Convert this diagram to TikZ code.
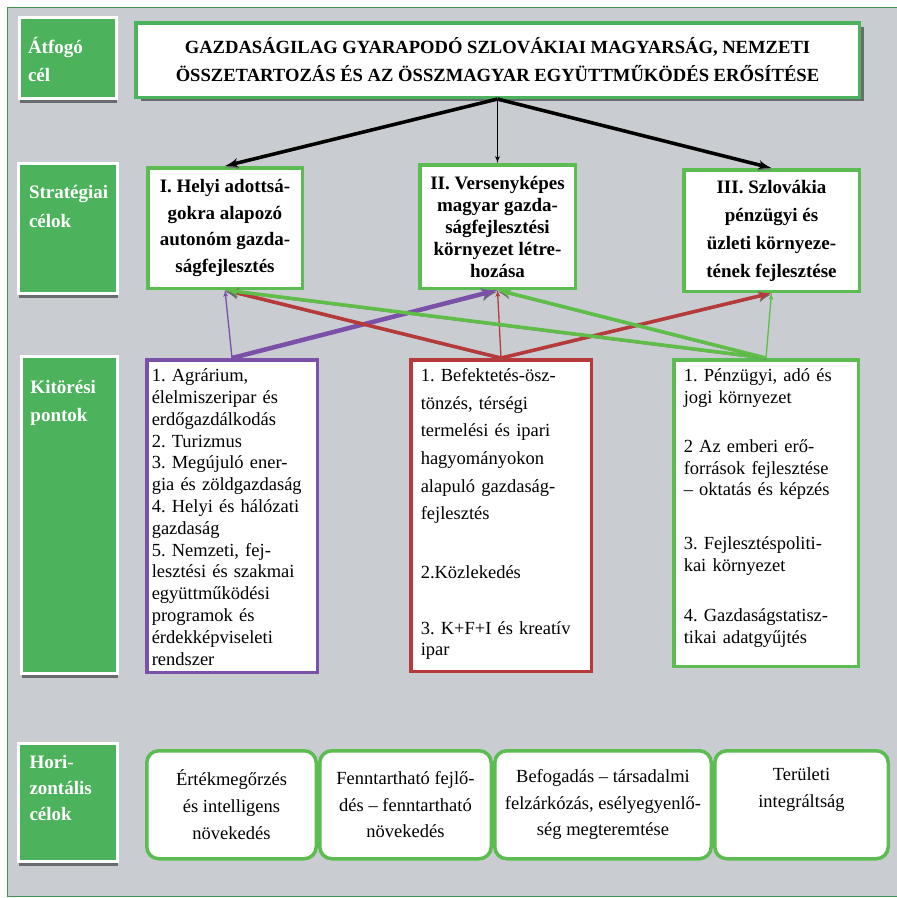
\documentclass[tikz,border=0pt]{standalone}
\usepackage{fontspec}
\setmainfont{Liberation Serif}
\usepackage{tikz}
\usetikzlibrary{shapes,arrows,positioning,shadows}

\definecolor{bggrey}{RGB}{201,205,209}
\definecolor{framegreen}{RGB}{70,145,80}
\definecolor{labgreen}{RGB}{76,178,92}
\definecolor{boxgreen}{RGB}{92,188,82}
\definecolor{shadowgrey}{RGB}{105,108,110}
\definecolor{purp}{RGB}{122,80,168}
\definecolor{darkred}{RGB}{183,58,58}
\definecolor{arrgreen}{RGB}{95,190,72}

\tikzstyle{lbl} = [rectangle, draw=white, line width=3pt, fill=labgreen,
    text=white, font=\bfseries\fontsize{19}{28}\selectfont, align=left,
    anchor=north west, inner ysep=0pt,
    drop shadow={shadow xshift=0pt, shadow yshift=-4pt, fill=shadowgrey, opacity=1}]
\tikzstyle{goal} = [rectangle, draw=boxgreen, line width=3.5pt, fill=white,
    align=center, font=\bfseries\fontsize{19}{26.7}\selectfont]
\tikzstyle{point} = [rectangle, line width=3.5pt, fill=white, align=left,
    anchor=north west, inner ysep=0pt, text height=22pt,
    font=\frenchspacing\fontsize{18.5}{21.8}\selectfont]
\tikzstyle{crossgoal} = [rectangle, rounded corners=12pt, draw=boxgreen,
    line width=3.5pt, fill=white, align=center, minimum height=108pt,
    font=\fontsize{18.5}{26.7}\selectfont]
\tikzstyle{link} = [draw, -latex', line width=3.5pt,
    preaction={draw=shadowgrey, transform canvas={yshift=-1.5pt}}]
\tikzstyle{thinlink} = [draw, -latex', line width=1.3pt]

\begin{document}
\begin{tikzpicture}[x=1pt, y=-1pt]
        % Frame
        \useasboundingbox (0,0) rectangle (897,898);
        \fill[bggrey] (7.5,7.5) rectangle (897,896.5);
        \draw[framegreen, line width=1.2pt] (899,7.5) -- (7.5,7.5) -- (7.5,896.5) -- (899,896.5);

        % Row labels
        \node [lbl, minimum width=97pt, text width=80pt, inner xsep=8.5pt,
            text height=35.5pt, text depth=45.5pt] (atfogo) at (18,16) {Átfogó\\cél};
        \node [lbl, minimum width=99pt, text width=78pt, inner xsep=10.5pt,
            text height=34.5pt, text depth=95.5pt,
            font=\bfseries\fontsize{19}{29}\selectfont] (strat) at (17,162) {Stratégiai\\célok};
        \node [lbl, minimum width=96pt, text width=78pt, inner xsep=9pt,
            text height=36.5pt, text depth=280.5pt] (kitores) at (20,355) {Kitörési\\pontok};
        \node [lbl, minimum width=99pt, text width=77pt, inner xsep=11pt,
            text height=24.5pt, text depth=93.5pt,
            font=\bfseries\fontsize{19}{26}\selectfont] (horiz) at (17,742) {Hori-\\zontális\\célok};

        % Overall goal
        \node [goal, draw=labgreen, minimum width=723.5pt, minimum height=74.5pt,
            font=\bfseries\fontsize{18.6}{28}\selectfont,
            drop shadow={shadow xshift=5pt, shadow yshift=-4pt, fill=shadowgrey, opacity=1}]
            (cel) at (497.5,60)
            {GAZDASÁGILAG GYARAPODÓ SZLOVÁKIAI MAGYARSÁG, NEMZETI\\ÖSSZETARTOZÁS ÉS AZ ÖSSZMAGYAR EGYÜTTMŰKÖDÉS ERŐSÍTÉSE};

        % Strategic goals
        \node [goal, minimum width=154.5pt, minimum height=120.5pt] (helyi) at (225,228)
            {I. Helyi adottsá-\\gokra alapozó\\autonóm gazda-\\ságfejlesztés};
        \node [goal, minimum width=155.5pt, minimum height=123.5pt,
            font=\bfseries\fontsize{19}{22}\selectfont] (verseny) at (497.5,226.5)
            {II. Versenyképes\\magyar gazda-\\ságfejlesztési\\környezet létre-\\hozása};
        \node [goal, minimum width=175.5pt, minimum height=121.5pt,
            font=\bfseries\fontsize{19}{28}\selectfont] (penzugy) at (771.5,230.5)
            {III. Szlovákia\\pénzügyi és\\üzleti környeze-\\tének fejlesztése};

        % Breakout points
        \node [point, draw=purp, minimum width=170.5pt, text width=160.5pt,
            inner xsep=5pt, text depth=290.5pt] (agrar) at (145,358)
            {1. Agrárium,\\élelmiszeripar és\\erdőgazdálkodás\\2. Turizmus\\3. Megújuló ener-\\gia és zöldgazdaság\\4. Helyi és hálózati\\gazdaság\\5. Nemzeti, fej-\\lesztési és szakmai\\együttműködési\\programok és\\érdekképviseleti\\rendszer};
        \node [point, draw=darkred, minimum width=180.5pt, text width=160.5pt,
            inner xsep=10pt, text depth=289.5pt,
            font=\frenchspacing\fontsize{18.5}{27.6}\selectfont] (befekt) at (409,358)
            {1. Befektetés-ösz-\\tönzés, térségi\\termelési és ipari\\hagyományokon\\alapuló gazdaság-\\fejlesztés\\[31pt]2.Közlekedés\\[29pt]3. K+F+I és kreatív\\[-7.5pt]ipar};
        \node [point, draw=boxgreen, minimum width=184.5pt, text width=164.5pt,
            inner xsep=10pt, text depth=284.5pt] (jogi) at (672,358)
            {1. Pénzügyi, adó és\\jogi környezet\\[27pt]2 Az emberi erő-\\források fejlesztése\\– oktatás és képzés\\[32pt]3. Fejlesztéspoliti-\\kai környezet\\[28pt]4. Gazdaságstatisz-\\tikai adatgyűjtés};

        % Horizontal goals
        \node [crossgoal, minimum width=169.5pt, anchor=north west] (ertek) at (145,749)
            {Értékmegőrzés\\és intelligens\\növekedés};
        \node [crossgoal, minimum width=171.5pt, right=0pt of ertek] (fennt)
            {Fenntartható fejlő-\\dés – fenntartható\\növekedés};
        \node [crossgoal, minimum width=216.5pt, right=0pt of fennt] (befog)
            {Befogadás – társadalmi\\felzárkózás, esélyegyenlő-\\ség megteremtése};
        \node [crossgoal, minimum width=173.5pt, right=0pt of befog] (terulet)
            {Területi\\integráltság\\\strut};

        % Connections
        \path [link] (cel.south) -- (helyi.north);
        \path [thinlink] (cel.south) -- (verseny.north);
        \path [link] (cel.south) -- (penzugy.north);
        \path [thinlink, purp] (agrar.north) -- (helyi.south);
        \path [link, purp, line width=4.5pt] (agrar.north) -- (verseny.south);
        \path [link, darkred] (befekt.north) -- (helyi.south);
        \path [thinlink, darkred] (befekt.north) -- (verseny.south);
        \path [link, darkred] (befekt.north) -- (penzugy.south);
        \path [link, arrgreen] (jogi.north) -- (helyi.south);
        \path [link, arrgreen] (jogi.north) -- (verseny.south);
        \path [thinlink, arrgreen] (jogi.north) -- (penzugy.south);
    \end{tikzpicture}
\end{document}
